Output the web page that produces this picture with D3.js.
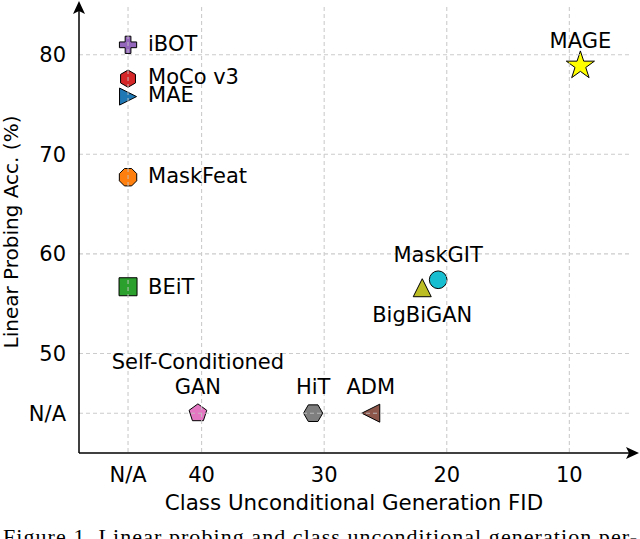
<!DOCTYPE html>
<html>
<head>
<meta charset="utf-8">
<script src="https://cdn.jsdelivr.net/npm/d3@7"></script>
<style>
  body { margin: 0; background: #fff; }
  svg { display: block; }
  text { font-family: "DejaVu Sans", sans-serif; fill: #000; }
</style>
</head>
<body>
<div id="chart"></div>
<script>
// methods and their values (null = N/A)
const methods = ["iBOT", "MoCo v3", "MAE", "MaskFeat", "BEiT", "MAGE", "MaskGIT", "BigBiGAN", "Self-Conditioned GAN", "HiT", "ADM"];
const fidValues = [null, null, null, null, null, 9.1, 20.7, 22.0, 40.3, 30.9, 26.2];
const accValues = [81.0, 77.6, 75.8, 67.7, 56.7, 78.9, 57.4, 56.6, null, null, null];
const markerShapes = ["plus", "hexagon", "triRight", "octagon", "square", "star", "circle", "triUp", "pentagon", "hexagon2", "triLeft"];
const markerColors = ["#9467bd", "#d62728", "#1f77b4", "#ff7f0e", "#2ca02c", "#ffff00", "#17becf", "#bcbd22", "#e377c2", "#7f7f7f", "#8c564b"];

const xTickValues = ["N/A", 40, 30, 20, 10];
const yTickValues = ["N/A", 50, 60, 70, 80];
const NA_FID = 46, NA_ACC = 44;

// label placement: anchor and pixel offset from the marker
const labelPlace = {
  "iBOT": ["start", 20, 6],
  "MoCo v3": ["start", 20, 5],
  "MAE": ["start", 20, 5],
  "MaskFeat": ["start", 20, 6],
  "BEiT": ["start", 20, 7],
  "MAGE": ["middle", 0, -18],
  "MaskGIT": ["middle", 0, -18],
  "BigBiGAN": ["middle", 0, 34],
  "Self-Conditioned GAN": ["middle", 0, -44],
  "HiT": ["middle", 0, -19],
  "ADM": ["middle", 0, -19]
};

const width = 640, height = 539;
const svg = d3.select("#chart").append("svg")
    .attr("width", width)
    .attr("height", height);

const x = d3.scaleLinear().domain([50, 4.4]).range([79, 638]);
const y = d3.scaleLinear().domain([40, 85.3]).range([453, 2]);
const tx = v => x(v === "N/A" ? NA_FID : v);
const ty = v => y(v === "N/A" ? NA_ACC : v);

function poly(pts) {
  return "M" + pts.map(p => p.join(",")).join("L") + "Z";
}
function polygon(n, r, rot) {
  return poly(d3.range(n).map(i => {
    const a = rot + i * 2 * Math.PI / n;
    return [r * Math.cos(a), r * Math.sin(a)];
  }));
}
function starPath(R, r) {
  return poly(d3.range(10).map(i => {
    const rr = i % 2 ? r : R;
    const a = -Math.PI / 2 + i * Math.PI / 5;
    return [rr * Math.cos(a), rr * Math.sin(a)];
  }));
}
// matplotlib style triangles: tip at one side, base spanning the other
function shapePath(s) {
  switch (s) {
    case "plus": return d3.symbol(d3.symbolCross, 165)();
    case "hexagon": return polygon(6, 8.6, -Math.PI / 2);
    case "hexagon2": return polygon(6, 9.6, 0);
    case "octagon": return polygon(8, 9.4, Math.PI / 8);
    case "pentagon": return polygon(5, 9.3, -Math.PI / 2);
    case "square": return "M-9,-9L9,-9L9,9L-9,9Z";
    case "circle": return d3.symbol(d3.symbolCircle, 245)();
    case "star": return starPath(14.8, 5.65);
    case "triUp": return poly([[0, -9], [9, 9], [-9, 9]]);
    case "triRight": return poly([[8.5, 0], [-8.5, 8.5], [-8.5, -8.5]]);
    case "triLeft": return poly([[-9, 0], [9, -9], [9, 9]]);
  }
}

const data = methods.map((m, i) => ({
  name: m,
  fid: fidValues[i] === null ? NA_FID : fidValues[i],
  acc: accValues[i] === null ? NA_ACC : accValues[i],
  shape: markerShapes[i],
  color: markerColors[i]
}));

// markers
svg.append("g").selectAll("path")
    .data(data)
    .enter().append("path")
    .attr("transform", d => "translate(" + x(d.fid) + "," + y(d.acc) + ")")
    .attr("d", d => shapePath(d.shape))
    .attr("fill", d => d.color)
    .attr("stroke", "#000")
    .attr("stroke-width", 1);

// grid (drawn above markers, like the original)
const grid = svg.append("g")
    .attr("stroke", "#c4c4c4")
    .attr("stroke-width", 1.1)
    .attr("stroke-dasharray", "4,3")
    .attr("opacity", 0.85);
grid.selectAll(".hg").data(yTickValues).enter().append("line")
    .attr("x1", 79).attr("x2", 630)
    .attr("y1", d => ty(d)).attr("y2", d => ty(d));
grid.selectAll(".vg").data(xTickValues).enter().append("line")
    .attr("x1", d => tx(d)).attr("x2", d => tx(d))
    .attr("y1", 7).attr("y2", 453);

// labels
const labels = svg.append("g").style("font-size", "21px");
data.forEach(d => {
  const p = labelPlace[d.name];
  const t = labels.append("text")
      .attr("text-anchor", p[0])
      .attr("x", x(d.fid) + p[1])
      .attr("y", y(d.acc) + p[2]);
  if (d.name === "Self-Conditioned GAN") {
    t.append("tspan").attr("x", x(d.fid) + p[1]).text("Self-Conditioned");
    t.append("tspan").attr("x", x(d.fid) + p[1]).attr("dy", 25).text("GAN");
  } else {
    t.text(d.name);
  }
});

// axes with arrows
svg.append("line").attr("x1", 79).attr("x2", 79).attr("y1", 453).attr("y2", 6)
    .attr("stroke", "#000").attr("stroke-width", 1.5);
svg.append("line").attr("x1", 79).attr("x2", 634).attr("y1", 453).attr("y2", 453)
    .attr("stroke", "#000").attr("stroke-width", 1.5);
svg.append("path").attr("d", "M79,1L73,14L79,11L85,14Z").attr("fill", "#000");
svg.append("path").attr("d", "M639,453L626,447L629,453L626,459Z").attr("fill", "#000");

// tick labels
svg.append("g").style("font-size", "21px").attr("text-anchor", "end")
  .selectAll("text").data(yTickValues).enter().append("text")
    .attr("x", 66)
    .attr("y", d => ty(d) + 7.5)
    .text(d => d);
svg.append("g").style("font-size", "21px").attr("text-anchor", "middle")
  .selectAll("text").data(xTickValues).enter().append("text")
    .attr("x", d => tx(d))
    .attr("y", 482)
    .text(d => d);

// axis titles
svg.append("text")
    .attr("x", 354).attr("y", 510)
    .attr("text-anchor", "middle")
    .style("font-size", "21.4px")
    .text("Class Unconditional Generation FID");
svg.append("text")
    .attr("transform", "translate(18,232) rotate(-90)")
    .attr("text-anchor", "middle")
    .style("font-size", "20px")
    .text("Linear Probing Acc. (%)");

// caption, cut off at the bottom
svg.append("text")
    .attr("x", 3).attr("y", 544)
    .attr("textLength", 634)
    .style("font-family", "'Liberation Serif', serif")
    .style("font-size", "22px")
    .text("Figure 1. Linear probing and class unconditional generation per-");
</script>
</body>
</html>
